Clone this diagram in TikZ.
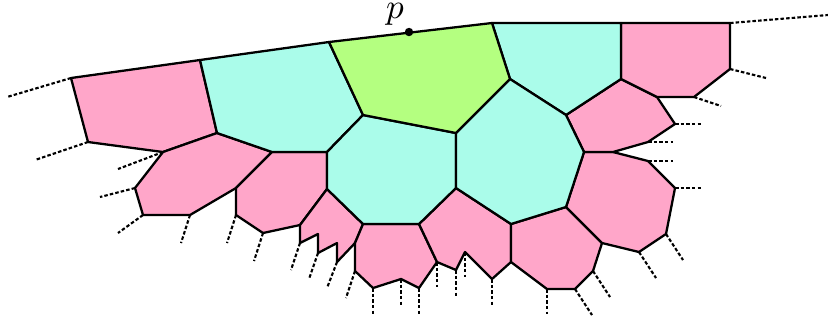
\documentclass[tikz,border=0pt]{standalone}
\usepackage{amsmath,amssymb}
\usepackage{tikz}
\usepackage{xcolor}
\definecolor{cellpink}{HTML}{FFA6C9}
\definecolor{cellcyan}{HTML}{AAFCEA}
\definecolor{cellgreen}{HTML}{B4FF80}
\tikzset{
  edge/.style={line width=0.65pt,line join=round},
  ray/.style={line width=0.6pt,dash pattern=on 1pt off 0.6pt}
}
\begin{document}
\begin{tikzpicture}[x=0.01cm,y=-0.01cm]
\useasboundingbox (0,0) rectangle (828,320);
\coordinate (a) at (71,78);
\coordinate (b) at (200,60);
\coordinate (bb) at (329,42);
\coordinate (bd) at (492,23);
\coordinate (ax) at (621,23);
\coordinate (ay) at (730,23);
\coordinate (az) at (730,69);
\coordinate (ba) at (694,97);
\coordinate (au) at (657,97);
\coordinate (av) at (621,79);
\coordinate (aw) at (566,115);
\coordinate (be) at (510,79);
\coordinate (bf) at (456,133);
\coordinate (bc) at (363,115);
\coordinate (c) at (217,133);
\coordinate (d) at (163,152);
\coordinate (e) at (88,142);
\coordinate (f) at (272,152);
\coordinate (k) at (327,152);
\coordinate (l) at (327,189);
\coordinate (g) at (236,188);
\coordinate (h) at (190,215);
\coordinate (i) at (143,215);
\coordinate (j) at (135,188);
\coordinate (m) at (300,225);
\coordinate (n) at (263,233);
\coordinate (o) at (236,215);
\coordinate (pp) at (363,224);
\coordinate (q) at (355,243);
\coordinate (r) at (337,262);
\coordinate (rr) at (337,243);
\coordinate (s) at (318,253);
\coordinate (ss) at (318,234);
\coordinate (t) at (300,243);
\coordinate (z) at (355,271);
\coordinate (u) at (419,224);
\coordinate (v) at (437,262);
\coordinate (w) at (419,288);
\coordinate (xx) at (401,279);
\coordinate (yy) at (373,288);
\coordinate (aa) at (456,188);
\coordinate (ab) at (511,224);
\coordinate (ac) at (511,262);
\coordinate (ad) at (492,279);
\coordinate (ae) at (465,252);
\coordinate (af) at (456,270);
\coordinate (ah) at (566,207);
\coordinate (ai) at (602,243);
\coordinate (aj) at (593,271);
\coordinate (ak) at (575,289);
\coordinate (al) at (547,289);
\coordinate (am) at (639,252);
\coordinate (an) at (666,234);
\coordinate (ao) at (675,188);
\coordinate (ap) at (648,161);
\coordinate (aq) at (613,152);
\coordinate (ar) at (584,152);
\coordinate (as) at (648,142);
\coordinate (at) at (675,124);
\fill[cellpink] (a) -- (b) -- (c) -- (d) -- (e) -- cycle;
\draw[edge] (a) -- (b) -- (c) -- (d) -- (e) -- cycle;
\fill[cellpink] (d) -- (c) -- (f) -- (g) -- (h) -- (i) -- (j) -- cycle;
\draw[edge] (d) -- (c) -- (f) -- (g) -- (h) -- (i) -- (j) -- cycle;
\fill[cellpink] (f) -- (k) -- (l) -- (m) -- (n) -- (o) -- (g) -- cycle;
\draw[edge] (f) -- (k) -- (l) -- (m) -- (n) -- (o) -- (g) -- cycle;
\fill[cellpink] (l) -- (pp) -- (q) -- (r) -- (rr) -- (s) -- (ss) -- (t) -- (m) -- cycle;
\draw[edge] (l) -- (pp) -- (q) -- (r) -- (rr) -- (s) -- (ss) -- (t) -- (m) -- cycle;
\fill[cellpink] (pp) -- (u) -- (v) -- (w) -- (xx) -- (yy) -- (z) -- (q) -- cycle;
\draw[edge] (pp) -- (u) -- (v) -- (w) -- (xx) -- (yy) -- (z) -- (q) -- cycle;
\fill[cellpink] (u) -- (aa) -- (ab) -- (ac) -- (ad) -- (ae) -- (af) -- (v) -- cycle;
\draw[edge] (u) -- (aa) -- (ab) -- (ac) -- (ad) -- (ae) -- (af) -- (v) -- cycle;
\fill[cellpink] (ab) -- (ah) -- (ai) -- (aj) -- (ak) -- (al) -- (ac) -- cycle;
\draw[edge] (ab) -- (ah) -- (ai) -- (aj) -- (ak) -- (al) -- (ac) -- cycle;
\fill[cellpink] (ah) -- (ar) -- (aq) -- (ap) -- (ao) -- (an) -- (am) -- (ai) -- cycle;
\draw[edge] (ah) -- (ar) -- (aq) -- (ap) -- (ao) -- (an) -- (am) -- (ai) -- cycle;
\fill[cellpink] (ar) -- (aq) -- (as) -- (at) -- (au) -- (av) -- (aw) -- cycle;
\draw[edge] (ar) -- (aq) -- (as) -- (at) -- (au) -- (av) -- (aw) -- cycle;
\fill[cellpink] (av) -- (ax) -- (ay) -- (az) -- (ba) -- (au) -- cycle;
\draw[edge] (av) -- (ax) -- (ay) -- (az) -- (ba) -- (au) -- cycle;
\fill[cellcyan] (b) -- (bb) -- (bc) -- (k) -- (f) -- (c) -- cycle;
\draw[edge] (b) -- (bb) -- (bc) -- (k) -- (f) -- (c) -- cycle;
\fill[cellcyan] (bd) -- (ax) -- (av) -- (aw) -- (be) -- cycle;
\draw[edge] (bd) -- (ax) -- (av) -- (aw) -- (be) -- cycle;
\fill[cellcyan] (bc) -- (bf) -- (aa) -- (u) -- (pp) -- (l) -- (k) -- cycle;
\draw[edge] (bc) -- (bf) -- (aa) -- (u) -- (pp) -- (l) -- (k) -- cycle;
\fill[cellcyan] (bf) -- (be) -- (aw) -- (ar) -- (ah) -- (ab) -- (aa) -- cycle;
\draw[edge] (bf) -- (be) -- (aw) -- (ar) -- (ah) -- (ab) -- (aa) -- cycle;
\fill[cellgreen] (bb) -- (bd) -- (be) -- (bf) -- (bc) -- cycle;
\draw[edge] (bb) -- (bd) -- (be) -- (bf) -- (bc) -- cycle;
\foreach \v/\x/\y in {a/7/97, e/35/160, d/118/169, j/100/197, i/118/233,
  h/181/243, o/227/243, n/254/261, t/291/270, s/309/279, r/327/288,
  z/346/298, yy/373/314, xx/401/305, w/419/314, v/437/287, af/456/296,
  ae/465/277, ad/492/305, al/547/314, ak/592/315, aj/610/297,
  am/656/278, an/683/260, ao/701/188, ap/673/161, as/673/142,
  at/701/124, ba/721/106, az/766/78, ay/828/15}
  \draw[ray] (\v) -- (\x,\y);
\coordinate (p) at (409,32);
\fill (p) circle (1.2pt);
\node[inner sep=0pt] (plabel) at (395,14.5) {$p$};
\end{tikzpicture}
\end{document}
